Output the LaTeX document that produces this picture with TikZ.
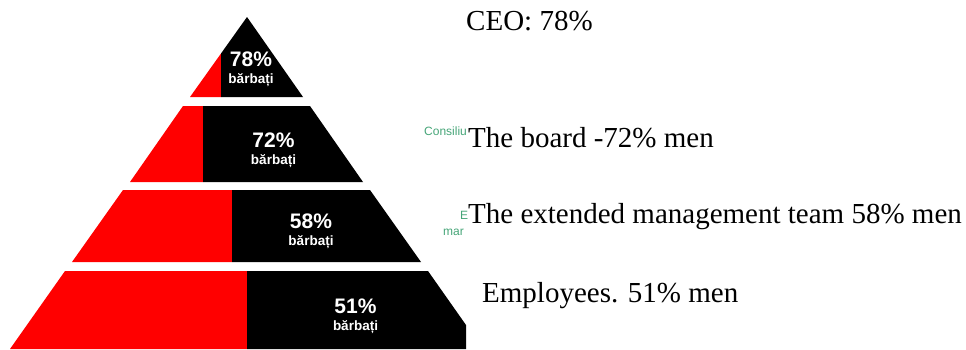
\documentclass[tikz,border=0pt]{standalone}
\usepackage{fontspec}
\setmainfont{Liberation Serif}
\newfontfamily\pyrsans{Liberation Sans}
\definecolor{pyrred}{RGB}{255,0,0}
\definecolor{legendgreen}{RGB}{70,165,120}
\tikzset{
  pct/.style={anchor=base,inner sep=0,text=white,font=\pyrsans\bfseries\fontsize{21}{21}\selectfont},
  men/.style={anchor=base,inner sep=0,text=white,font=\pyrsans\bfseries\fontsize{13.5}{13.5}\selectfont},
  caption/.style={anchor=base west,inner sep=0,font=\fontsize{29}{29}\selectfont},
  stub/.style={anchor=base west,inner sep=0,text=legendgreen,font=\pyrsans\fontsize{12}{12}\selectfont}
}
\begin{document}
\begin{tikzpicture}[x=1pt,y=-1pt]
\useasboundingbox (0,0) rectangle (966,349);
% pyramid, red part then black part per tier
\fill[pyrred] (221,53.5) -- (190,97) -- (221,97) -- cycle;
\fill[black] (221,53.5) -- (247,17) -- (303,97) -- (221,97) -- cycle;
\fill[pyrred] (183,106) -- (203,106) -- (203,182) -- (130,182) -- cycle;
\fill[black] (203,106) -- (310,106) -- (363,182) -- (203,182) -- cycle;
\fill[pyrred] (123,190) -- (232,190) -- (232,262) -- (72,262) -- cycle;
\fill[black] (232,190) -- (370,190) -- (421,262) -- (232,262) -- cycle;
\fill[pyrred] (65,271) -- (247,271) -- (247,349) -- (10,349) -- cycle;
\fill[black] (247,271) -- (428,271) -- (466,325) -- (466,349) -- (247,349) -- cycle;
% labels inside
\path (251,66) node(ceo_pct) [pct] {78\%};
\path (251,83) node(ceo_men) [men] {bărbați};
\path (273.5,147) node(board_pct) [pct] {72\%};
\path (273.5,164) node(board_men) [men] {bărbați};
\path (311,228) node(mgmt_pct) [pct] {58\%};
\path (311,245) node(mgmt_men) [men] {bărbați};
\path (355.5,313) node(emp_pct) [pct] {51\%};
\path (355.5,330) node(emp_men) [men] {bărbați};
% green stubs
\begin{scope}
\clip (400,100) rectangle (467,250);
\path (424,135) node(board_stub) [stub] {Consiliu};
\path (460,219) node(mgmt_stub) [stub] {E};
\path (443,235) node(mgmt_stub2) [stub] {mar};
\end{scope}
% captions
\path (466,30) node(ceo_txt) [caption] {CEO: 78\%};
\path (468,147) node(board_txt) [caption] {The board -72\% men};
\path (468,223) node(mgmt_txt) [caption] {The extended management team 58\% men};
\path (482,302) node(emp_txt) [caption] {Employees. 51\% men};
\end{tikzpicture}
\end{document}
